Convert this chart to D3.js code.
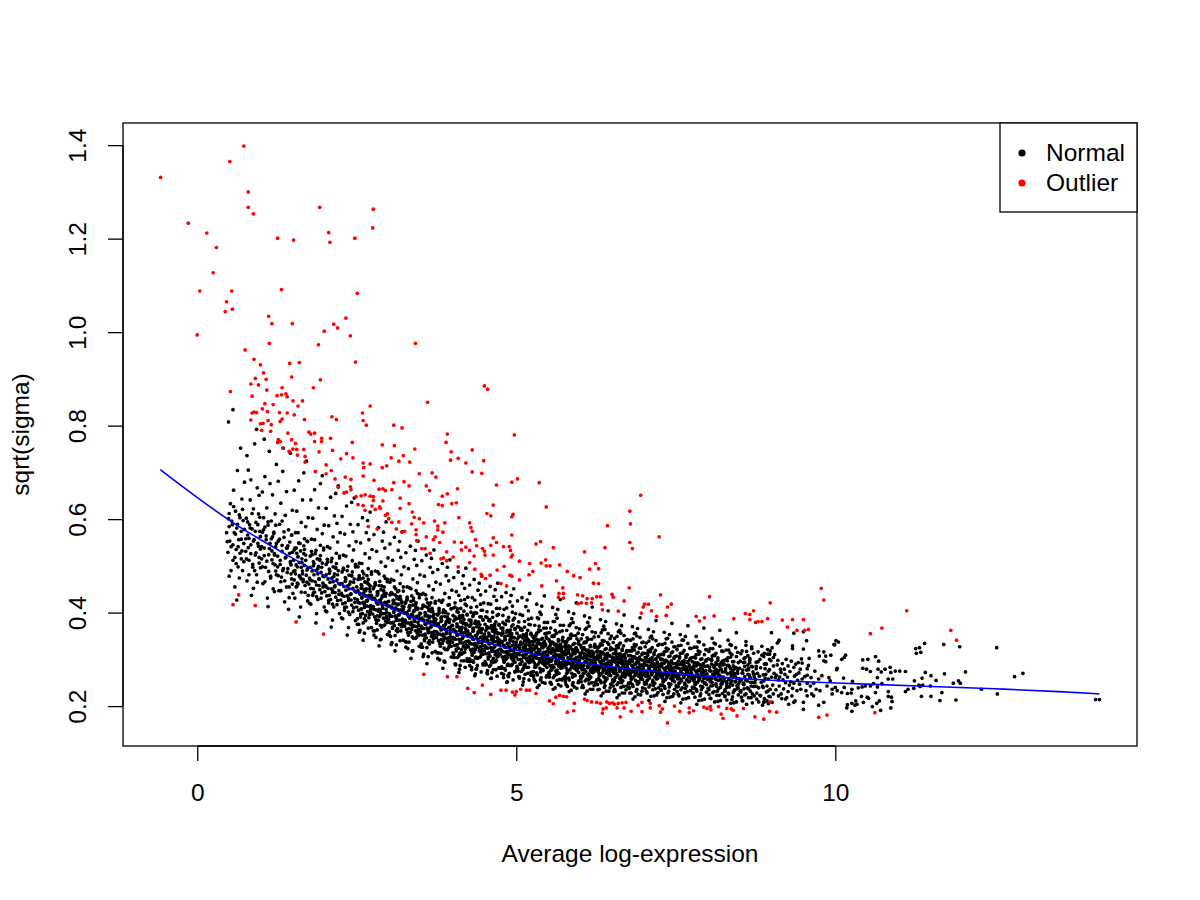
<!DOCTYPE html>
<html><head><meta charset="utf-8">
<script src="https://cdn.jsdelivr.net/npm/d3@7"></script>
<style>body{margin:0;background:#fff} text{font-family:"Liberation Sans",Arial,sans-serif}</style>
</head><body><svg id="c" width="1200" height="900"></svg>
<script>
// Normal genes: [average log-expression, sqrt(sigma)] — spread of the cloud
const normal=[
[.47,.552],[.49,.601],[.5,.478],[.52,.633],[.53,.541],[.55,.588],[.56,.512],[.57,.662],[.58,.571],[.59,.455],[.6,.617],[.61,.535],[.62,.581],[.63,.704],[.64,.498],[.65,.556],[.66,.609],[.67,.527],[.68,.752],[.69,.574],[.7,.643],[.71,.49],[.72,.597],[.73,.548],[.74,.679],[.5,.584],[.56,.834],[.49,.808],[.62,.427],[.69,.515],
[.76,.531],[.77,.602],[.78,.468],[.79,.566],[.8,.705],[.81,.512],[.82,.588],[.83,.641],[.84,.545],[.85,.437],[.86,.579],[.87,.497],[.88,.622],[.89,.556],[.9,.761],[.91,.523],[.92,.593],[.93,.481],[.94,.667],[.95,.548],[.96,.611],[.97,.506],[.98,.574],[.99,.536],[.78,.736],[.84,.684],[.88,.452],[.93,.792],[.97,.651],[.81,.559],
[1.01,.515],[1.02,.572],[1.03,.462],[1.04,.603],[1.05,.538],[1.06,.691],[1.07,.497],[1.08,.556],[1.09,.624],[1.1,.431],[1.11,.587],[1.12,.524],[1.13,.745],[1.14,.548],[1.15,.478],[1.16,.596],[1.17,.532],[1.18,.652],[1.19,.505],[1.2,.569],[1.21,.445],[1.22,.611],[1.23,.541],[1.24,.717],[1.02,.658],[1.06,.583],[1.11,.413],[1.14,.676],[1.18,.562],[1.21,.523],[1.05,.771],[1.23,.489],
[1.26,.498],[1.27,.553],[1.28,.447],[1.29,.589],[1.3,.512],[1.31,.634],[1.32,.476],[1.33,.531],[1.34,.702],[1.35,.494],[1.36,.561],[1.37,.423],[1.38,.608],[1.39,.519],[1.4,.659],[1.41,.486],[1.42,.543],[1.43,.577],[1.44,.455],[1.45,.527],[1.46,.741],[1.47,.502],[1.48,.566],[1.49,.619],[1.27,.681],[1.31,.466],[1.35,.752],[1.4,.538],[1.43,.407],[1.46,.509],[1.33,.596],[1.48,.472],
[1.51,.488],[1.52,.534],[1.53,.431],[1.54,.571],[1.55,.502],[1.56,.617],[1.57,.463],[1.58,.519],[1.59,.682],[1.6,.479],[1.61,.548],[1.62,.412],[1.63,.593],[1.64,.507],[1.65,.641],[1.66,.471],[1.67,.526],[1.68,.558],[1.69,.443],[1.7,.512],[1.71,.724],[1.72,.491],[1.73,.552],[1.74,.603],[1.52,.662],[1.56,.456],[1.6,.391],[1.63,.497],[1.67,.699],[1.7,.584],[1.73,.425],[1.55,.538],[1.65,.483],[1.58,.571],
[1.76,.474],[1.77,.521],[1.78,.418],[1.79,.557],[1.8,.489],[1.81,.602],[1.82,.451],[1.83,.505],[1.84,.663],[1.85,.466],[1.86,.533],[1.87,.398],[1.88,.578],[1.89,.494],[1.9,.624],[1.91,.458],[1.92,.512],[1.93,.544],[1.94,.431],[1.95,.497],[1.96,.693],[1.97,.478],[1.98,.538],[1.99,.587],[1.78,.641],[1.82,.442],[1.86,.378],[1.89,.483],[1.93,.676],[1.96,.569],[1.99,.412],[1.8,.524],[1.91,.471],[1.84,.556],
[2.01,.458],[2.02,.503],[2.03,.402],[2.04,.541],[2.05,.472],[2.06,.586],[2.07,.437],[2.08,.489],[2.09,.647],[2.1,.451],[2.11,.516],[2.12,.384],[2.13,.562],[2.14,.477],[2.15,.607],[2.16,.443],[2.17,.495],[2.18,.527],[2.19,.417],[2.2,.481],[2.21,.671],[2.22,.462],[2.23,.521],[2.24,.571],[2.02,.623],[2.06,.426],[2.1,.369],[2.13,.466],[2.17,.655],[2.2,.551],[2.23,.398],[2.04,.508],[2.15,.455],[2.08,.538],[2.19,.591],[2.12,.447],
[2.26,.441],[2.27,.487],[2.28,.387],[2.29,.523],[2.3,.456],[2.31,.568],[2.32,.421],[2.33,.472],[2.34,.628],[2.35,.436],[2.36,.499],[2.37,.368],[2.38,.543],[2.39,.461],[2.4,.589],[2.41,.427],[2.42,.479],[2.43,.511],[2.44,.402],[2.45,.465],[2.46,.645],[2.47,.446],[2.48,.503],[2.49,.552],[2.27,.606],[2.31,.411],[2.35,.352],[2.38,.451],[2.42,.636],[2.45,.534],[2.48,.383],[2.29,.492],[2.4,.439],[2.33,.521],[2.44,.573],[2.37,.431],
[2.51,.428],[2.52,.471],[2.53,.375],[2.54,.506],[2.55,.441],[2.56,.549],[2.57,.408],[2.58,.457],[2.59,.603],[2.6,.422],[2.61,.483],[2.62,.356],[2.63,.526],[2.64,.447],[2.65,.571],[2.66,.414],[2.67,.463],[2.68,.494],[2.69,.389],[2.7,.451],[2.71,.615],[2.72,.432],[2.73,.487],[2.74,.535],[2.52,.588],[2.56,.397],[2.6,.341],[2.63,.436],[2.67,.597],[2.7,.517],[2.73,.368],[2.54,.476],[2.65,.425],[2.58,.505],[2.69,.556],[2.62,.418],[2.71,.402],[2.55,.362],
[2.76,.413],[2.77,.455],[2.78,.361],[2.79,.489],[2.8,.426],[2.81,.531],[2.82,.393],[2.83,.441],[2.84,.582],[2.85,.407],[2.86,.467],[2.87,.342],[2.88,.508],[2.89,.431],[2.9,.553],[2.91,.398],[2.92,.447],[2.93,.478],[2.94,.374],[2.95,.435],[2.96,.594],[2.97,.416],[2.98,.471],[2.99,.517],[2.77,.567],[2.81,.383],[2.85,.329],[2.88,.421],[2.92,.572],[2.95,.499],[2.98,.353],[2.79,.459],[2.9,.409],[2.83,.487],[2.94,.538],[2.87,.402],[2.96,.387],[2.8,.347],
[3.01,.398],[3.02,.438],[3.03,.349],[3.04,.471],[3.05,.411],[3.06,.512],[3.07,.379],[3.08,.426],[3.09,.561],[3.1,.393],[3.11,.451],[3.12,.331],[3.13,.489],[3.14,.417],[3.15,.533],[3.16,.384],[3.17,.432],[3.18,.462],[3.19,.361],[3.2,.421],[3.21,.573],[3.22,.402],[3.23,.455],[3.24,.498],[3.02,.547],[3.06,.369],[3.1,.318],[3.13,.407],[3.17,.552],[3.2,.481],[3.23,.341],[3.04,.443],[3.15,.395],[3.08,.469],[3.19,.518],[3.12,.388],[3.21,.374],[3.05,.336],[3.14,.445],[3.24,.413],
[3.26,.384],[3.27,.423],[3.28,.337],[3.29,.455],[3.3,.396],[3.31,.494],[3.32,.366],[3.33,.411],[3.34,.542],[3.35,.379],[3.36,.436],[3.37,.318],[3.38,.472],[3.39,.403],[3.4,.514],[3.41,.371],[3.42,.418],[3.43,.447],[3.44,.348],[3.45,.407],[3.46,.553],[3.47,.388],[3.48,.439],[3.49,.481],[3.27,.528],[3.31,.356],[3.35,.302],[3.38,.393],[3.42,.533],[3.45,.464],[3.48,.328],[3.29,.428],[3.4,.382],[3.33,.453],[3.44,.501],[3.37,.374],[3.46,.361],[3.3,.323],[3.39,.431],[3.49,.399],
[3.51,.371],[3.52,.409],[3.53,.326],[3.54,.441],[3.55,.383],[3.56,.478],[3.57,.354],[3.58,.397],[3.59,.523],[3.6,.367],[3.61,.421],[3.62,.306],[3.63,.457],[3.64,.389],[3.65,.497],[3.66,.358],[3.67,.404],[3.68,.432],[3.69,.337],[3.7,.393],[3.71,.534],[3.72,.375],[3.73,.424],[3.74,.465],[3.52,.511],[3.56,.344],[3.6,.291],[3.63,.379],[3.67,.516],[3.7,.449],[3.73,.317],[3.54,.414],[3.65,.368],[3.58,.438],[3.69,.486],[3.62,.361],[3.71,.349],[3.55,.311],[3.64,.416],[3.74,.386],[3.57,.376],[3.68,.352],
[3.76,.358],[3.77,.395],[3.78,.314],[3.79,.426],[3.8,.369],[3.81,.461],[3.82,.342],[3.83,.383],[3.84,.505],[3.85,.354],[3.86,.406],[3.87,.296],[3.88,.441],[3.89,.375],[3.9,.479],[3.91,.345],[3.92,.389],[3.93,.416],[3.94,.325],[3.95,.379],[3.96,.513],[3.97,.362],[3.98,.408],[3.99,.448],[3.77,.492],[3.81,.332],[3.85,.281],[3.88,.365],[3.92,.497],[3.95,.432],[3.98,.305],[3.79,.399],[3.9,.355],[3.83,.422],[3.94,.468],[3.87,.348],[3.96,.336],[3.8,.299],[3.89,.401],[3.99,.372],[3.82,.363],[3.93,.339],
[4.01,.347],[4.02,.382],[4.03,.304],[4.04,.412],[4.05,.358],[4.06,.445],[4.07,.331],[4.08,.371],[4.09,.487],[4.1,.343],[4.11,.393],[4.12,.287],[4.13,.426],[4.14,.364],[4.15,.462],[4.16,.335],[4.17,.377],[4.18,.403],[4.19,.315],[4.2,.367],[4.21,.495],[4.22,.351],[4.23,.395],[4.24,.433],[4.02,.475],[4.06,.322],[4.1,.272],[4.13,.354],[4.17,.479],[4.2,.418],[4.23,.296],[4.04,.386],[4.15,.344],[4.08,.408],[4.19,.452],[4.12,.338],[4.21,.326],[4.05,.29],[4.14,.389],[4.24,.361],[4.07,.352],[4.18,.329],[4.11,.311],[4.22,.376],
[4.26,.338],[4.27,.371],[4.28,.296],[4.29,.401],[4.3,.348],[4.31,.432],[4.32,.322],[4.33,.361],[4.34,.471],[4.35,.334],[4.36,.382],[4.37,.279],[4.38,.413],[4.39,.354],[4.4,.448],[4.41,.326],[4.42,.367],[4.43,.391],[4.44,.306],[4.45,.357],[4.46,.478],[4.47,.342],[4.48,.384],[4.49,.421],[4.27,.459],[4.31,.313],[4.35,.265],[4.38,.345],[4.42,.463],[4.45,.405],[4.48,.288],[4.29,.375],[4.4,.335],[4.33,.396],[4.44,.438],[4.37,.329],[4.46,.317],[4.3,.283],[4.39,.378],[4.49,.351],[4.32,.343],[4.43,.32],[4.36,.303],[4.47,.366],
[4.51,.329],[4.52,.361],[4.53,.289],[4.54,.39],[4.55,.339],[4.56,.419],[4.57,.314],[4.58,.351],[4.59,.456],[4.6,.325],[4.61,.372],[4.62,.272],[4.63,.401],[4.64,.344],[4.65,.435],[4.66,.317],[4.67,.357],[4.68,.38],[4.69,.298],[4.7,.347],[4.71,.463],[4.72,.333],[4.73,.373],[4.74,.409],[4.52,.446],[4.56,.305],[4.6,.259],[4.63,.336],[4.67,.449],[4.7,.394],[4.73,.281],[4.54,.365],[4.65,.326],[4.58,.385],[4.69,.426],[4.62,.32],[4.71,.309],[4.55,.276],[4.64,.368],[4.74,.341],[4.57,.334],[4.68,.311],[4.61,.295],[4.72,.356],[4.53,.347],[4.66,.364],
[4.76,.321],[4.77,.352],[4.78,.281],[4.79,.379],[4.8,.33],[4.81,.407],[4.82,.306],[4.83,.342],[4.84,.443],[4.85,.317],[4.86,.362],[4.87,.265],[4.88,.39],[4.89,.335],[4.9,.423],[4.91,.309],[4.92,.348],[4.93,.371],[4.94,.29],[4.95,.338],[4.96,.451],[4.97,.324],[4.98,.364],[4.99,.398],[4.77,.434],[4.81,.297],[4.85,.251],[4.88,.327],[4.92,.437],[4.95,.384],[4.98,.273],[4.79,.356],[4.9,.318],[4.83,.375],[4.94,.414],[4.87,.312],[4.96,.301],[4.8,.268],[4.89,.359],[4.99,.332],[4.82,.326],[4.93,.303],[4.86,.287],[4.97,.346],[4.78,.338],[4.91,.355],
[5.01,.313],[5.02,.344],[5.03,.275],[5.04,.369],[5.05,.322],[5.06,.396],[5.07,.299],[5.08,.334],[5.09,.432],[5.1,.309],[5.11,.353],[5.12,.259],[5.13,.381],[5.14,.327],[5.15,.413],[5.16,.302],[5.17,.34],[5.18,.362],[5.19,.283],[5.2,.33],[5.21,.441],[5.22,.316],[5.23,.356],[5.24,.388],[5.02,.425],[5.06,.29],[5.1,.245],[5.13,.319],[5.17,.427],[5.2,.375],[5.23,.266],[5.04,.348],[5.15,.31],[5.08,.366],[5.19,.404],[5.12,.304],[5.21,.294],[5.05,.262],[5.14,.351],[5.24,.324],[5.07,.318],[5.18,.296],[5.11,.28],[5.22,.338],[5.03,.33],[5.16,.347],
[5.26,.297],[5.28,.338],[5.27,.266],[5.31,.352],[5.29,.309],[5.33,.389],[5.3,.287],[5.35,.321],[5.32,.418],[5.38,.302],[5.34,.341],[5.41,.251],[5.36,.371],[5.43,.315],[5.37,.401],[5.46,.294],[5.39,.331],[5.48,.356],[5.4,.277],[5.42,.325],[5.44,.436],[5.45,.308],[5.47,.348],[5.49,.379],[5.26,.331],[5.29,.283],[5.33,.24],[5.36,.312],[5.4,.414],[5.43,.367],[5.47,.262],[5.27,.346],[5.31,.305],[5.35,.359],[5.39,.396],[5.42,.299],[5.45,.29],[5.28,.257],[5.32,.343],[5.49,.318],[5.34,.314],[5.41,.293],[5.38,.273],[5.46,.333],[5.3,.327],[5.44,.339],
[5.51,.301],[5.53,.329],[5.52,.262],[5.56,.349],[5.54,.296],[5.58,.381],[5.55,.282],[5.6,.317],[5.57,.411],[5.63,.298],[5.59,.334],[5.66,.246],[5.61,.362],[5.68,.309],[5.62,.396],[5.71,.288],[5.64,.323],[5.73,.347],[5.65,.271],[5.67,.319],[5.69,.428],[5.7,.303],[5.72,.341],[5.74,.373],[5.51,.324],[5.54,.276],[5.58,.236],[5.61,.305],[5.65,.407],[5.68,.359],[5.72,.256],[5.52,.339],[5.56,.299],[5.6,.352],[5.64,.388],[5.67,.293],[5.7,.284],[5.53,.251],[5.57,.336],[5.74,.312],[5.59,.307],[5.66,.287],[5.63,.268],[5.71,.327],[5.55,.319],[5.69,.332],
[5.76,.294],[5.78,.322],[5.77,.257],[5.81,.342],[5.79,.289],[5.83,.372],[5.8,.276],[5.85,.31],[5.82,.402],[5.88,.291],[5.84,.327],[5.91,.241],[5.86,.354],[5.93,.302],[5.87,.387],[5.96,.282],[5.89,.316],[5.98,.339],[5.9,.265],[5.92,.312],[5.94,.421],[5.95,.297],[5.97,.334],[5.99,.365],[5.76,.317],[5.79,.27],[5.83,.231],[5.86,.299],[5.9,.398],[5.93,.351],[5.97,.25],[5.77,.332],[5.81,.293],[5.85,.345],[5.89,.379],[5.92,.286],[5.95,.278],[5.78,.246],[5.82,.329],[5.99,.306],[5.84,.301],[5.91,.281],[5.88,.262],[5.96,.32],[5.8,.313],[5.94,.325],
[6.01,.288],[6.03,.315],[6.02,.252],[6.06,.335],[6.04,.283],[6.08,.364],[6.05,.27],[6.1,.304],[6.07,.393],[6.13,.285],[6.09,.32],[6.16,.236],[6.11,.346],[6.18,.296],[6.12,.379],[6.21,.276],[6.14,.31],[6.23,.332],[6.15,.259],[6.17,.306],[6.19,.412],[6.2,.291],[6.22,.327],[6.24,.357],[6.01,.311],[6.04,.264],[6.08,.226],[6.11,.293],[6.15,.389],[6.18,.343],[6.22,.244],[6.02,.325],[6.06,.287],[6.1,.338],[6.14,.371],[6.17,.28],[6.2,.272],[6.03,.24],[6.07,.322],[6.24,.3],[6.09,.295],[6.16,.275],[6.13,.256],[6.21,.314],
[6.26,.284],[6.28,.309],[6.27,.247],[6.31,.329],[6.29,.278],[6.33,.357],[6.3,.265],[6.35,.298],[6.32,.385],[6.38,.28],[6.34,.314],[6.41,.232],[6.36,.339],[6.43,.291],[6.37,.371],[6.46,.271],[6.39,.304],[6.48,.325],[6.4,.254],[6.42,.301],[6.44,.404],[6.45,.286],[6.47,.32],[6.49,.35],[6.26,.305],[6.29,.259],[6.33,.222],[6.36,.288],[6.4,.381],[6.43,.336],[6.47,.239],[6.27,.318],[6.31,.282],[6.35,.331],[6.39,.364],[6.42,.275],[6.45,.267],[6.28,.235],[6.32,.316],[6.49,.294],[6.34,.29],[6.41,.27],[6.38,.251],[6.46,.308],
[6.51,.279],[6.53,.303],[6.52,.243],[6.56,.322],[6.54,.274],[6.58,.349],[6.55,.261],[6.6,.293],[6.57,.376],[6.63,.276],[6.59,.308],[6.66,.228],[6.61,.332],[6.68,.286],[6.62,.362],[6.71,.266],[6.64,.298],[6.73,.318],[6.65,.25],[6.67,.296],[6.69,.395],[6.7,.281],[6.72,.314],[6.74,.342],[6.51,.3],[6.54,.255],[6.58,.218],[6.61,.283],[6.65,.372],[6.68,.329],[6.72,.235],[6.52,.312],[6.56,.277],[6.6,.325],[6.64,.356],[6.67,.27],[6.7,.262],[6.53,.231],[6.57,.31],[6.74,.289],[6.59,.285],[6.66,.265],
[6.76,.276],[6.78,.299],[6.77,.24],[6.81,.318],[6.79,.27],[6.83,.344],[6.8,.258],[6.85,.289],[6.82,.37],[6.88,.272],[6.84,.304],[6.91,.225],[6.86,.327],[6.93,.282],[6.87,.356],[6.96,.262],[6.89,.294],[6.98,.313],[6.9,.247],[6.92,.292],[6.94,.389],[6.95,.277],[6.97,.31],[6.99,.337],[6.76,.296],[6.79,.251],[6.83,.215],[6.86,.279],[6.9,.366],[6.93,.324],[6.97,.232],[6.77,.308],[6.81,.273],[6.85,.32],[6.89,.35],[6.92,.266],[6.95,.258],[6.78,.228],[6.82,.306],[6.99,.285],
[7.01,.273],[7.03,.296],[7.02,.237],[7.06,.314],[7.04,.267],[7.08,.339],[7.05,.255],[7.1,.286],[7.07,.364],[7.13,.269],[7.09,.3],[7.16,.222],[7.11,.322],[7.18,.279],[7.12,.35],[7.21,.259],[7.14,.29],[7.23,.309],[7.15,.244],[7.17,.288],[7.19,.383],[7.2,.274],[7.22,.306],[7.24,.332],[7.01,.292],[7.04,.248],[7.08,.212],[7.11,.275],[7.15,.359],[7.18,.319],[7.22,.229],[7.02,.304],[7.06,.27],[7.1,.316],[7.14,.344],[7.2,.263],
[7.26,.27],[7.28,.292],[7.27,.234],[7.31,.31],[7.29,.264],[7.33,.334],[7.3,.252],[7.35,.283],[7.32,.358],[7.38,.266],[7.34,.296],[7.41,.219],[7.36,.318],[7.43,.276],[7.37,.345],[7.46,.256],[7.39,.287],[7.48,.305],[7.4,.241],[7.42,.285],[7.44,.377],[7.45,.271],[7.47,.302],[7.49,.327],[7.26,.289],[7.29,.245],[7.33,.21],[7.36,.272],[7.4,.353],[7.43,.314],[7.47,.226],[7.27,.3],[7.31,.267],[7.45,.261],
[7.51,.267],[7.53,.289],[7.52,.231],[7.56,.306],[7.54,.261],[7.58,.33],[7.55,.249],[7.6,.28],[7.57,.353],[7.63,.263],[7.59,.293],[7.66,.216],[7.61,.314],[7.68,.273],[7.62,.341],[7.71,.253],[7.64,.284],[7.73,.302],[7.65,.238],[7.67,.282],[7.69,.372],[7.7,.268],[7.72,.299],[7.74,.323],[7.51,.286],[7.54,.242],[7.58,.207],[7.61,.269],[7.65,.349],[7.68,.31],
[7.76,.264],[7.78,.286],[7.77,.228],[7.81,.303],[7.79,.258],[7.83,.326],[7.8,.246],[7.85,.277],[7.82,.349],[7.88,.26],[7.84,.29],[7.91,.213],[7.86,.311],[7.93,.27],[7.87,.337],[7.96,.25],[7.89,.281],[7.98,.299],[7.9,.235],[7.92,.279],[7.94,.367],[7.95,.265],[7.97,.296],[7.99,.32],[7.76,.283],[7.79,.239],[7.83,.204],[7.86,.266],
[8.01,.261],[8.03,.283],[8.02,.225],[8.06,.3],[8.04,.255],[8.08,.323],[8.05,.243],[8.1,.274],[8.07,.345],[8.13,.257],[8.09,.287],[8.16,.21],[8.11,.308],[8.18,.267],[8.12,.333],[8.21,.247],[8.14,.278],[8.23,.296],[8.15,.232],[8.17,.276],[8.19,.362],[8.2,.262],[8.22,.293],[8.24,.317],
[8.26,.258],[8.28,.28],[8.27,.222],[8.31,.297],[8.29,.252],[8.33,.32],[8.3,.24],[8.35,.271],[8.32,.341],[8.38,.254],[8.34,.284],[8.41,.207],[8.36,.305],[8.43,.264],[8.37,.33],[8.46,.244],[8.39,.275],[8.48,.293],[8.4,.229],[8.45,.357],
[8.52,.255],[8.55,.277],[8.53,.219],[8.58,.294],[8.56,.249],[8.61,.317],[8.57,.237],[8.63,.268],[8.6,.338],[8.67,.251],[8.64,.281],[8.7,.226],[8.66,.302],[8.73,.262],[8.69,.327],[8.76,.242]
];
// Normal genes in the dense core of the cloud
const normalCore=[
[.46,.571],[.48,.529],[.5,.612],[.51,.553],[.53,.49],[.54,.596],[.56,.545],[.57,.627],[.59,.518],[.6,.568],[.61,.505],[.63,.589],[.64,.541],[.66,.474],[.67,.603],[.69,.557],[.7,.532],[.71,.621],[.73,.509],[.74,.578],
[.76,.558],[.77,.515],[.79,.594],[.8,.539],[.81,.481],[.83,.581],[.84,.526],[.86,.612],[.87,.503],[.88,.553],[.9,.49],[.91,.574],[.92,.528],[.94,.465],[.95,.588],[.96,.542],[.97,.518],[.98,.604],[.99,.496],[.99,.563],
[1.01,.541],[1.02,.498],[1.04,.577],[1.05,.522],[1.06,.466],[1.08,.564],[1.09,.51],[1.11,.594],[1.12,.488],[1.13,.537],[1.15,.474],[1.16,.558],[1.17,.513],[1.19,.451],[1.2,.572],[1.21,.526],[1.22,.502],[1.23,.587],[1.24,.481],[1.24,.548],
[1.26,.521],[1.27,.479],[1.29,.557],[1.3,.503],[1.31,.447],[1.33,.544],[1.34,.49],[1.36,.573],[1.37,.468],[1.38,.517],[1.4,.455],[1.41,.538],[1.42,.494],[1.44,.432],[1.45,.551],[1.46,.506],[1.47,.483],[1.48,.566],[1.49,.461],[1.49,.529],
[1.5,.441],[1.51,.512],[1.52,.47],[1.53,.538],[1.54,.483],[1.55,.455],[1.56,.527],[1.57,.498],[1.58,.461],[1.59,.549],[1.6,.507],[1.61,.476],[1.62,.532],[1.63,.444],[1.64,.515],[1.65,.489],[1.66,.466],[1.67,.543],[1.68,.501],[1.69,.458],[1.7,.523],[1.71,.48],[1.72,.553],[1.73,.494],[1.74,.437],[1.53,.49],[1.58,.52],[1.63,.472],[1.68,.535],[1.72,.465],
[1.75,.461],[1.76,.42],[1.77,.497],[1.78,.452],[1.79,.531],[1.8,.468],[1.81,.437],[1.82,.509],[1.83,.481],[1.84,.444],[1.85,.526],[1.86,.49],[1.87,.459],[1.88,.515],[1.89,.428],[1.9,.499],[1.91,.473],[1.92,.449],[1.93,.522],[1.94,.486],[1.95,.442],[1.96,.506],[1.97,.463],[1.98,.534],[1.99,.477],[1.77,.47],[1.82,.5],[1.87,.434],[1.92,.514],[1.97,.455],
[2,.445],[2.01,.404],[2.02,.481],[2.03,.436],[2.04,.514],[2.05,.452],[2.06,.421],[2.07,.493],[2.08,.465],[2.09,.428],[2.1,.509],[2.11,.474],[2.12,.443],[2.13,.498],[2.14,.412],[2.15,.483],[2.16,.457],[2.17,.433],[2.18,.505],[2.19,.47],[2.2,.426],[2.21,.49],[2.22,.447],[2.23,.517],[2.24,.461],[2.02,.455],[2.07,.484],[2.12,.418],[2.17,.497],[2.22,.439],
[2.25,.427],[2.26,.389],[2.27,.462],[2.28,.419],[2.29,.495],[2.3,.435],[2.31,.405],[2.32,.475],[2.33,.448],[2.34,.412],[2.35,.49],[2.36,.457],[2.37,.426],[2.38,.48],[2.39,.396],[2.4,.466],[2.41,.44],[2.42,.416],[2.43,.487],[2.44,.452],[2.45,.41],[2.46,.472],[2.47,.43],[2.48,.498],[2.49,.444],[2.27,.437],[2.32,.467],[2.37,.401],[2.42,.479],[2.47,.422],
[2.5,.412],[2.51,.375],[2.52,.447],[2.53,.405],[2.54,.479],[2.55,.42],[2.56,.391],[2.57,.46],[2.58,.433],[2.59,.398],[2.6,.474],[2.61,.442],[2.62,.411],[2.63,.465],[2.64,.383],[2.65,.451],[2.66,.425],[2.67,.402],[2.68,.471],[2.69,.437],[2.7,.396],[2.71,.457],[2.72,.415],[2.73,.482],[2.74,.429],[2.52,.422],[2.57,.452],[2.62,.387],[2.67,.463],[2.72,.407],
[2.75,.397],[2.76,.361],[2.77,.431],[2.78,.391],[2.79,.462],[2.8,.406],[2.81,.377],[2.82,.444],[2.83,.418],[2.84,.384],[2.85,.458],[2.86,.427],[2.87,.396],[2.88,.449],[2.89,.369],[2.9,.436],[2.91,.41],[2.92,.388],[2.93,.455],[2.94,.422],[2.95,.382],[2.96,.441],[2.97,.4],[2.98,.466],[2.99,.414],[2.77,.407],[2.82,.437],[2.87,.373],[2.92,.447],[2.97,.392],
[3,.385],[3.01,.352],[3.02,.414],[3.03,.378],[3.04,.442],[3.05,.392],[3.06,.366],[3.07,.426],[3.08,.402],[3.09,.372],[3.1,.438],[3.11,.41],[3.12,.383],[3.13,.43],[3.14,.359],[3.15,.418],[3.16,.395],[3.17,.375],[3.18,.435],[3.19,.406],[3.2,.37],[3.21,.423],[3.22,.386],[3.23,.446],[3.24,.399],[3.02,.392],[3.07,.419],[3.12,.362],[3.17,.428],[3.22,.378],
[3.25,.371],[3.26,.338],[3.27,.4],[3.28,.364],[3.29,.428],[3.3,.378],[3.31,.352],[3.32,.412],[3.33,.388],[3.34,.358],[3.35,.424],[3.36,.396],[3.37,.369],[3.38,.416],[3.39,.345],[3.4,.404],[3.41,.381],[3.42,.361],[3.43,.421],[3.44,.392],[3.45,.356],[3.46,.409],[3.47,.372],[3.48,.432],[3.49,.385],[3.27,.378],[3.32,.405],[3.37,.348],[3.42,.414],[3.47,.364],
[3.5,.359],[3.51,.326],[3.52,.388],[3.53,.352],[3.54,.416],[3.55,.366],[3.56,.34],[3.57,.4],[3.58,.376],[3.59,.346],[3.6,.412],[3.61,.384],[3.62,.357],[3.63,.404],[3.64,.333],[3.65,.392],[3.66,.369],[3.67,.349],[3.68,.409],[3.69,.38],[3.7,.344],[3.71,.397],[3.72,.36],[3.73,.42],[3.74,.373],[3.52,.366],[3.57,.393],[3.62,.336],[3.67,.402],[3.72,.352],
[3.75,.347],[3.76,.314],[3.77,.376],[3.78,.34],[3.79,.404],[3.8,.354],[3.81,.328],[3.82,.388],[3.83,.364],[3.84,.334],[3.85,.4],[3.86,.372],[3.87,.345],[3.88,.392],[3.89,.321],[3.9,.38],[3.91,.357],[3.92,.337],[3.93,.397],[3.94,.368],[3.95,.332],[3.96,.385],[3.97,.348],[3.98,.408],[3.99,.361],[3.77,.354],[3.82,.381],[3.87,.324],[3.92,.39],[3.97,.34],
[4,.337],[4.01,.305],[4.02,.364],[4.03,.33],[4.04,.391],[4.05,.343],[4.06,.318],[4.07,.376],[4.08,.353],[4.09,.324],[4.1,.388],[4.11,.361],[4.12,.335],[4.13,.38],[4.14,.311],[4.15,.369],[4.16,.346],[4.17,.327],[4.18,.385],[4.19,.357],[4.2,.322],[4.21,.374],[4.22,.338],[4.23,.396],[4.24,.35],[4.02,.344],[4.07,.37],[4.12,.314],[4.17,.378],[4.22,.33],
[4.25,.327],[4.26,.296],[4.27,.354],[4.28,.321],[4.29,.38],[4.3,.333],[4.31,.309],[4.32,.366],[4.33,.343],[4.34,.315],[4.35,.377],[4.36,.351],[4.37,.326],[4.38,.37],[4.39,.302],[4.4,.359],[4.41,.336],[4.42,.318],[4.43,.374],[4.44,.347],[4.45,.313],[4.46,.364],[4.47,.329],[4.48,.385],[4.49,.34],[4.27,.334],[4.32,.36],[4.37,.305],[4.42,.367],[4.47,.321],
[4.5,.318],[4.51,.288],[4.52,.345],[4.53,.312],[4.54,.37],[4.55,.324],[4.56,.301],[4.57,.356],[4.58,.334],[4.59,.307],[4.6,.367],[4.61,.342],[4.62,.317],[4.63,.36],[4.64,.294],[4.65,.35],[4.66,.327],[4.67,.31],[4.68,.364],[4.69,.338],[4.7,.305],[4.71,.355],[4.72,.32],[4.73,.375],[4.74,.331],[4.52,.325],[4.57,.35],[4.62,.297],[4.67,.357],[4.72,.313],
[4.75,.311],[4.76,.281],[4.77,.337],[4.78,.305],[4.79,.361],[4.8,.316],[4.81,.294],[4.82,.348],[4.83,.326],[4.84,.3],[4.85,.358],[4.86,.334],[4.87,.31],[4.88,.351],[4.89,.287],[4.9,.342],[4.91,.319],[4.92,.303],[4.93,.355],[4.94,.33],[4.95,.298],[4.96,.347],[4.97,.313],[4.98,.366],[4.99,.323],[4.77,.318],[4.82,.342],[4.87,.29],[4.92,.349],[4.97,.306],
[5,.305],[5.01,.279],[5.02,.328],[5.03,.3],[5.04,.349],[5.05,.31],[5.06,.29],[5.07,.337],[5.08,.318],[5.09,.295],[5.1,.346],[5.11,.325],[5.12,.304],[5.13,.34],[5.14,.284],[5.15,.332],[5.16,.312],[5.17,.298],[5.18,.343],[5.19,.321],[5.2,.293],[5.21,.336],[5.22,.307],[5.23,.353],[5.24,.316],[5.02,.311],[5.07,.332],[5.12,.287],[5.17,.338],[5.22,.3],
[5.25,.298],[5.26,.273],[5.27,.321],[5.28,.293],[5.29,.341],[5.3,.303],[5.31,.284],[5.32,.33],[5.33,.311],[5.34,.289],[5.35,.338],[5.36,.318],[5.37,.297],[5.38,.333],[5.39,.278],[5.4,.325],[5.41,.305],[5.42,.291],[5.43,.336],[5.44,.314],[5.45,.287],[5.46,.329],[5.47,.3],[5.48,.345],[5.49,.309],[5.27,.304],[5.32,.325],[5.37,.281],[5.42,.331],[5.47,.293],
[5.5,.292],[5.51,.268],[5.52,.315],[5.53,.287],[5.54,.334],[5.55,.297],[5.56,.278],[5.57,.323],[5.58,.305],[5.59,.283],[5.6,.331],[5.61,.312],[5.62,.291],[5.63,.326],[5.64,.272],[5.65,.319],[5.66,.299],[5.67,.285],[5.68,.329],[5.69,.308],[5.7,.281],[5.71,.322],[5.72,.294],[5.73,.338],[5.74,.303],[5.52,.298],[5.57,.319],[5.62,.275],[5.67,.324],[5.72,.287],
[5.75,.287],[5.76,.263],[5.77,.31],[5.78,.282],[5.79,.328],[5.8,.292],[5.81,.273],[5.82,.318],[5.83,.3],[5.84,.278],[5.85,.326],[5.86,.307],[5.87,.286],[5.88,.321],[5.89,.267],[5.9,.314],[5.91,.294],[5.92,.28],[5.93,.324],[5.94,.303],[5.95,.276],[5.96,.317],[5.97,.289],[5.98,.333],[5.99,.298],[5.77,.293],[5.82,.314],[5.87,.27],[5.92,.319],[5.97,.282],
[6,.283],[6.01,.26],[6.02,.304],[6.03,.278],[6.04,.321],[6.05,.287],[6.06,.27],[6.07,.312],[6.08,.295],[6.09,.274],[6.1,.319],[6.11,.301],[6.12,.282],[6.13,.315],[6.14,.264],[6.15,.308],[6.16,.289],[6.17,.276],[6.18,.317],[6.19,.298],[6.2,.272],[6.21,.311],[6.22,.285],[6.23,.326],[6.24,.293],[6.02,.288],[6.07,.308],[6.12,.267],[6.17,.313],[6.22,.278],
[6.25,.279],[6.26,.256],[6.27,.3],[6.28,.274],[6.29,.317],[6.3,.283],[6.31,.266],[6.32,.308],[6.33,.291],[6.34,.27],[6.35,.315],[6.36,.297],[6.37,.278],[6.38,.311],[6.39,.26],[6.4,.304],[6.41,.285],[6.42,.272],[6.43,.313],[6.44,.294],[6.45,.268],[6.46,.307],[6.47,.281],[6.48,.322],[6.49,.289],[6.27,.284],[6.32,.304],[6.37,.263],[6.42,.309],[6.47,.274],
[6.5,.275],[6.51,.252],[6.52,.296],[6.53,.27],[6.54,.313],[6.55,.279],[6.56,.262],[6.57,.304],[6.58,.287],[6.59,.266],[6.6,.311],[6.61,.293],[6.62,.274],[6.63,.307],[6.64,.256],[6.65,.3],[6.66,.281],[6.67,.268],[6.68,.309],[6.69,.29],[6.7,.264],[6.71,.303],[6.72,.277],[6.73,.318],[6.74,.285],[6.52,.28],[6.57,.3],[6.62,.259],[6.67,.305],[6.72,.27],
[6.75,.271],[6.76,.249],[6.77,.292],[6.78,.266],[6.79,.308],[6.8,.275],[6.81,.258],[6.82,.3],[6.83,.283],[6.84,.262],[6.85,.306],[6.86,.289],[6.87,.27],[6.88,.302],[6.89,.252],[6.9,.296],[6.91,.277],[6.92,.264],[6.93,.305],[6.94,.286],[6.95,.26],[6.96,.299],[6.97,.273],[6.98,.313],[6.99,.281],[6.77,.276],[6.82,.296],[6.87,.255],[6.92,.301],[6.97,.266],
[7,.269],[7.01,.248],[7.02,.288],[7.03,.264],[7.04,.303],[7.05,.272],[7.06,.256],[7.07,.295],[7.08,.28],[7.09,.26],[7.1,.301],[7.11,.285],[7.12,.267],[7.13,.297],[7.14,.251],[7.15,.291],[7.16,.274],[7.17,.262],[7.18,.3],[7.19,.282],[7.2,.258],[7.21,.294],[7.22,.27],[7.23,.308],[7.24,.278],
[7.25,.266],[7.26,.245],[7.27,.285],[7.28,.261],[7.29,.3],[7.3,.269],[7.31,.253],[7.32,.292],[7.33,.277],[7.34,.257],[7.35,.298],[7.36,.282],[7.37,.264],[7.38,.294],[7.39,.248],[7.4,.288],[7.41,.271],[7.42,.259],[7.43,.297],[7.44,.279],[7.45,.255],[7.46,.291],[7.47,.267],[7.48,.305],[7.49,.275],
[7.5,.263],[7.51,.243],[7.52,.282],[7.53,.258],[7.54,.296],[7.55,.266],[7.56,.25],[7.57,.289],[7.58,.274],[7.59,.254],[7.6,.295],[7.61,.279],[7.62,.261],[7.63,.291],[7.64,.246],[7.65,.285],[7.66,.268],[7.67,.256],[7.68,.294],[7.69,.276],[7.7,.252],[7.71,.288],[7.72,.264],[7.73,.302],[7.74,.272],
[7.75,.26],[7.76,.24],[7.77,.279],[7.78,.255],[7.79,.293],[7.8,.263],[7.81,.247],[7.82,.286],[7.83,.271],[7.84,.251],[7.85,.292],[7.86,.276],[7.87,.258],[7.88,.288],[7.89,.243],[7.9,.282],[7.91,.265],[7.92,.253],[7.93,.291],[7.94,.273],[7.95,.249],[7.96,.285],[7.97,.261],[7.98,.299],[7.99,.269],
[8,.257],[8.01,.238],[8.03,.276],[8.04,.252],[8.06,.29],[8.07,.26],[8.08,.244],[8.1,.283],[8.11,.268],[8.13,.248],[8.14,.289],[8.16,.273],[8.17,.255],[8.19,.285],[8.2,.24],[8.21,.279],[8.22,.262],[8.23,.25],[8.24,.288],[8.12,.27],
[8.25,.254],[8.27,.235],[8.28,.273],[8.3,.249],[8.31,.287],[8.33,.257],[8.34,.241],[8.36,.28],[8.37,.265],[8.39,.245],[8.4,.286],[8.42,.27],[8.43,.252],[8.45,.282],[8.46,.237],[8.47,.276],[8.49,.259],[8.48,.247],
[8.5,.252],[8.52,.233],[8.54,.271],[8.56,.247],[8.58,.285],[8.6,.255],[8.62,.239],[8.64,.278],[8.66,.263],[8.68,.243],[8.7,.284],[8.72,.268],[8.74,.25],[8.76,.28]
];
// More normal genes filling the solid band of mid/high expression
const normalCore2=[
[2.5,.455],[2.51,.387],[2.52,.498],[2.53,.422],[2.54,.358],[2.55,.44],[2.56,.472],[2.57,.407],[2.58,.431],[2.59,.488],[2.6,.378],[2.61,.45],[2.62,.418],[2.63,.466],[2.64,.394],[2.65,.436],[2.66,.479],[2.67,.427],[2.68,.367],[2.69,.46],[2.7,.413],[2.71,.445],[2.72,.4],[2.73,.437],
[2.75,.412],[2.76,.451],[2.77,.352],[2.78,.43],[2.79,.464],[2.8,.385],[2.81,.421],[2.82,.363],[2.83,.445],[2.84,.403],[2.85,.483],[2.86,.392],[2.87,.425],[2.88,.343],[2.89,.457],[2.9,.416],[2.91,.435],[2.92,.372],[2.93,.44],[2.94,.398],[2.95,.473],[2.96,.407],[2.97,.422],[2.98,.379],
[3,.424],[3.01,.359],[3.02,.465],[3.03,.393],[3.04,.332],[3.05,.41],[3.06,.44],[3.07,.378],[3.08,.401],[3.09,.455],[3.1,.351],[3.11,.419],[3.12,.389],[3.13,.434],[3.14,.366],[3.15,.406],[3.16,.447],[3.17,.397],[3.18,.34],[3.19,.429],[3.2,.384],[3.21,.414],[3.22,.372],[3.23,.407],
[3.25,.383],[3.26,.42],[3.27,.326],[3.28,.4],[3.29,.433],[3.3,.358],[3.31,.392],[3.32,.337],[3.33,.415],[3.34,.375],[3.35,.451],[3.36,.364],[3.37,.396],[3.38,.318],[3.39,.426],[3.4,.387],[3.41,.405],[3.42,.345],[3.43,.41],[3.44,.37],[3.45,.441],[3.46,.379],[3.47,.393],[3.48,.352],
[3.5,.398],[3.51,.333],[3.52,.439],[3.53,.367],[3.54,.306],[3.55,.384],[3.56,.414],[3.57,.352],[3.58,.375],[3.59,.429],[3.6,.325],[3.61,.393],[3.62,.363],[3.63,.408],[3.64,.34],[3.65,.38],[3.66,.421],[3.67,.371],[3.68,.314],[3.69,.403],[3.7,.358],[3.71,.388],[3.72,.346],[3.73,.381],
[3.75,.359],[3.76,.396],[3.77,.302],[3.78,.376],[3.79,.409],[3.8,.334],[3.81,.368],[3.82,.313],[3.83,.391],[3.84,.351],[3.85,.427],[3.86,.34],[3.87,.372],[3.88,.294],[3.89,.402],[3.9,.363],[3.91,.381],[3.92,.321],[3.93,.386],[3.94,.346],[3.95,.417],[3.96,.355],[3.97,.369],[3.98,.328],
[4,.373],[4.01,.314],[4.02,.41],[4.03,.345],[4.04,.29],[4.05,.36],[4.06,.387],[4.07,.331],[4.08,.352],[4.09,.401],[4.1,.307],[4.11,.368],[4.12,.341],[4.13,.382],[4.14,.321],[4.15,.357],[4.16,.394],[4.17,.349],[4.18,.297],[4.19,.377],[4.2,.337],[4.21,.364],[4.22,.326],[4.23,.358],
[4.25,.339],[4.26,.372],[4.27,.287],[4.28,.354],[4.29,.384],[4.3,.316],[4.31,.347],[4.32,.297],[4.33,.367],[4.34,.331],[4.35,.4],[4.36,.321],[4.37,.35],[4.38,.28],[4.39,.377],[4.4,.342],[4.41,.358],[4.42,.304],[4.43,.363],[4.44,.327],[4.45,.391],[4.46,.335],[4.47,.348],[4.48,.311],
[4.5,.354],[4.51,.295],[4.52,.391],[4.53,.326],[4.54,.271],[4.55,.341],[4.56,.368],[4.57,.312],[4.58,.333],[4.59,.382],[4.6,.288],[4.61,.349],[4.62,.322],[4.63,.363],[4.64,.302],[4.65,.338],[4.66,.375],[4.67,.33],[4.68,.278],[4.69,.358],[4.7,.318],[4.71,.345],[4.72,.307],[4.73,.339],
[4.75,.322],[4.76,.355],[4.77,.27],[4.78,.337],[4.79,.367],[4.8,.299],[4.81,.33],[4.82,.28],[4.83,.35],[4.84,.314],[4.85,.383],[4.86,.304],[4.87,.333],[4.88,.263],[4.89,.36],[4.9,.325],[4.91,.341],[4.92,.287],[4.93,.346],[4.94,.31],[4.95,.374],[4.96,.318],[4.97,.331],[4.98,.294],
[5,.337],[5.01,.285],[5.02,.37],[5.03,.312],[5.04,.263],[5.05,.326],[5.06,.35],[5.07,.3],[5.08,.318],[5.09,.362],[5.1,.278],[5.11,.333],[5.12,.309],[5.13,.345],[5.14,.29],[5.15,.322],[5.16,.355],[5.17,.315],[5.18,.27],[5.19,.341],[5.2,.305],[5.21,.329],[5.22,.295],[5.23,.323],
[5.25,.308],[5.26,.338],[5.27,.263],[5.28,.322],[5.29,.348],[5.3,.288],[5.31,.315],[5.32,.271],[5.33,.334],[5.34,.302],[5.35,.363],[5.36,.293],[5.37,.319],[5.38,.256],[5.39,.343],[5.4,.311],[5.41,.326],[5.42,.278],[5.43,.33],[5.44,.298],[5.45,.355],[5.46,.305],[5.47,.316],[5.48,.283],
[5.5,.324],[5.51,.272],[5.52,.357],[5.53,.299],[5.54,.25],[5.55,.313],[5.56,.337],[5.57,.287],[5.58,.305],[5.59,.349],[5.6,.265],[5.61,.32],[5.62,.296],[5.63,.332],[5.64,.277],[5.65,.309],[5.66,.342],[5.67,.302],[5.68,.257],[5.69,.328],[5.7,.292],[5.71,.316],[5.72,.282],[5.73,.31],
[5.75,.297],[5.76,.327],[5.77,.252],[5.78,.311],[5.79,.337],[5.8,.277],[5.81,.304],[5.82,.26],[5.83,.323],[5.84,.291],[5.85,.352],[5.86,.282],[5.87,.308],[5.88,.245],[5.89,.332],[5.9,.3],[5.91,.315],[5.92,.267],[5.93,.319],[5.94,.287],[5.95,.344],[5.96,.294],[5.97,.305],[5.98,.272],
[6,.313],[6.01,.264],[6.02,.344],[6.03,.289],[6.04,.244],[6.05,.302],[6.06,.325],[6.07,.278],[6.08,.295],[6.09,.336],[6.1,.258],[6.11,.309],[6.12,.286],[6.13,.32],[6.14,.269],[6.15,.299],[6.16,.33],[6.17,.292],[6.18,.25],[6.19,.317],[6.2,.283],[6.21,.305],[6.22,.274],[6.23,.3],
[6.25,.288],[6.26,.316],[6.27,.246],[6.28,.301],[6.29,.326],[6.3,.27],[6.31,.295],[6.32,.254],[6.33,.313],[6.34,.282],[6.35,.34],[6.36,.274],[6.37,.298],[6.38,.24],[6.39,.321],[6.4,.291],[6.41,.305],[6.42,.26],[6.43,.309],[6.44,.279],[6.45,.332],[6.46,.285],[6.47,.296],[6.48,.265],
[6.5,.305],[6.51,.256],[6.52,.336],[6.53,.281],[6.54,.236],[6.55,.294],[6.56,.317],[6.57,.27],[6.58,.287],[6.59,.328],[6.6,.25],[6.61,.301],[6.62,.278],[6.63,.312],[6.64,.261],[6.65,.291],[6.66,.322],[6.67,.284],[6.68,.242],[6.69,.309],[6.7,.275],[6.71,.297],[6.72,.266],[6.73,.292],
[6.75,.28],[6.76,.308],[6.77,.238],[6.78,.293],[6.79,.318],[6.8,.262],[6.81,.287],[6.82,.246],[6.83,.305],[6.84,.274],[6.85,.332],[6.86,.266],[6.87,.29],[6.88,.232],[6.89,.313],[6.9,.283],[6.91,.297],[6.92,.252],[6.93,.301],[6.94,.271],[6.95,.324],[6.96,.277],[6.97,.288],[6.98,.257],
[7,.297],[7.01,.25],[7.02,.327],[7.03,.275],[7.04,.231],[7.05,.287],[7.06,.309],[7.07,.264],[7.08,.281],[7.09,.319],[7.1,.245],[7.11,.294],[7.12,.272],[7.13,.304],[7.14,.255],[7.15,.284],[7.16,.314],[7.17,.278],[7.18,.237],[7.19,.301],[7.2,.268],[7.21,.29],[7.22,.26],[7.23,.285],
[7.25,.275],[7.26,.301],[7.27,.234],[7.28,.287],[7.29,.311],[7.3,.257],[7.31,.281],[7.32,.242],[7.33,.298],[7.34,.269],[7.35,.324],[7.36,.261],[7.37,.284],[7.38,.228],[7.39,.306],[7.4,.278],[7.41,.291],[7.42,.247],[7.43,.294],[7.44,.265],[7.45,.316],[7.46,.272],[7.47,.282],[7.48,.252],
[7.5,.291],[7.51,.244],[7.52,.321],[7.53,.269],[7.54,.225],[7.55,.281],[7.56,.303],[7.57,.258],[7.58,.275],[7.59,.313],[7.6,.239],[7.61,.288],[7.62,.266],[7.63,.298],[7.64,.249],[7.65,.278],[7.66,.308],[7.67,.272],[7.68,.231],[7.69,.295],[7.7,.262],[7.71,.284],[7.72,.254],[7.73,.279],
[7.75,.269],[7.76,.295],[7.77,.228],[7.78,.281],[7.79,.305],[7.8,.251],[7.81,.275],[7.82,.236],[7.83,.292],[7.84,.263],[7.85,.318],[7.86,.255],[7.87,.278],[7.88,.222],[7.89,.3],[7.9,.272],[7.91,.285],[7.92,.241],[7.93,.288],[7.94,.259],[7.95,.31],[7.96,.266],[7.97,.276],[7.98,.246],
[8,.286],[8.01,.237],[8.02,.317],[8.03,.262],[8.04,.217],[8.05,.275],[8.06,.298],[8.07,.251],[8.08,.268],[8.09,.309],[8.1,.231],[8.11,.282],[8.12,.259],[8.13,.293],[8.14,.242],[8.15,.272],[8.16,.303],[8.17,.265],[8.18,.223],[8.19,.29],[8.2,.256],[8.21,.278],[8.22,.247],[8.23,.273],
[8.25,.262],[8.26,.29],[8.27,.22],[8.28,.275],[8.29,.3],[8.3,.244],[8.31,.269],[8.32,.228],[8.33,.287],[8.34,.256],[8.35,.314],[8.36,.248],[8.37,.272],[8.38,.214],[8.39,.295],[8.4,.265],[8.41,.279],[8.42,.234],[8.43,.283],[8.44,.253],[8.45,.306],[8.46,.259],[8.47,.27],[8.48,.239],
[8.5,.281],[8.51,.232],[8.52,.312],[8.53,.257],[8.54,.212],[8.55,.27],[8.56,.293],[8.57,.246],[8.58,.263],[8.59,.304],[8.6,.226],[8.61,.277],[8.62,.254],[8.63,.288],[8.64,.237],[8.65,.267],[8.66,.298],[8.67,.26],[8.68,.218],[8.69,.285],[8.7,.251],[8.71,.273],[8.72,.242],[8.73,.268],
[8.75,.257],[8.76,.285],[8.77,.215],[8.78,.27],[8.79,.295],[8.8,.239],[8.81,.264],[8.82,.223],[8.83,.282],[8.84,.251],[8.85,.309],[8.86,.243],[8.87,.267],[8.88,.209],[8.89,.29],[8.9,.26]
];
// Normal genes at the upper and lower edges of the dense band
const normalEdge=[
[4.01,.394],[4.04,.421],[4.07,.402],[4.1,.437],[4.13,.409],[4.16,.39],[4.19,.428],[4.22,.415],[4.02,.311],[4.05,.288],[4.08,.304],[4.11,.279],[4.14,.297],[4.17,.314],[4.2,.283],[4.23,.301],
[4.26,.384],[4.29,.411],[4.32,.392],[4.35,.427],[4.38,.399],[4.41,.38],[4.44,.418],[4.47,.405],[4.27,.301],[4.3,.278],[4.33,.294],[4.36,.269],[4.39,.287],[4.42,.304],[4.45,.273],[4.48,.291],
[4.51,.375],[4.54,.402],[4.57,.383],[4.6,.418],[4.63,.39],[4.66,.371],[4.69,.409],[4.72,.396],[4.52,.292],[4.55,.269],[4.58,.285],[4.61,.26],[4.64,.278],[4.67,.295],[4.7,.264],[4.73,.282],
[4.76,.367],[4.79,.394],[4.82,.375],[4.85,.41],[4.88,.382],[4.91,.363],[4.94,.401],[4.97,.388],[4.77,.284],[4.8,.261],[4.83,.277],[4.86,.252],[4.89,.27],[4.92,.287],[4.95,.256],[4.98,.274],
[5.01,.356],[5.04,.38],[5.07,.363],[5.1,.394],[5.13,.369],[5.16,.352],[5.19,.386],[5.22,.374],[5.02,.281],[5.05,.26],[5.08,.274],[5.11,.252],[5.14,.268],[5.17,.283],[5.2,.256],[5.23,.272],
[5.26,.349],[5.29,.373],[5.32,.356],[5.35,.387],[5.38,.362],[5.41,.345],[5.44,.379],[5.47,.367],[5.27,.274],[5.3,.253],[5.33,.267],[5.36,.245],[5.39,.261],[5.42,.276],[5.45,.249],[5.48,.265],
[5.51,.343],[5.54,.367],[5.57,.35],[5.6,.381],[5.63,.356],[5.66,.339],[5.69,.373],[5.72,.361],[5.52,.268],[5.55,.247],[5.58,.261],[5.61,.239],[5.64,.255],[5.67,.27],[5.7,.243],[5.73,.259],
[5.76,.338],[5.79,.362],[5.82,.345],[5.85,.376],[5.88,.351],[5.91,.334],[5.94,.368],[5.97,.356],[5.77,.263],[5.8,.242],[5.83,.256],[5.86,.234],[5.89,.25],[5.92,.265],[5.95,.238],[5.98,.254],
[6.01,.33],[6.04,.353],[6.07,.337],[6.1,.367],[6.13,.343],[6.16,.327],[6.19,.359],[6.22,.348],[6.02,.26],[6.05,.24],[6.08,.254],[6.11,.232],[6.14,.248],[6.17,.262],[6.2,.236],[6.23,.251],
[6.26,.326],[6.29,.349],[6.32,.333],[6.35,.363],[6.38,.339],[6.41,.323],[6.44,.355],[6.47,.344],[6.27,.256],[6.3,.236],[6.33,.25],[6.36,.228],[6.39,.244],[6.42,.258],[6.45,.232],[6.48,.247],
[6.51,.322],[6.54,.345],[6.57,.329],[6.6,.359],[6.63,.335],[6.66,.319],[6.69,.351],[6.72,.34],[6.52,.252],[6.55,.232],[6.58,.246],[6.61,.224],[6.64,.24],[6.67,.254],[6.7,.228],[6.73,.243],
[6.76,.318],[6.79,.341],[6.82,.325],[6.85,.355],[6.88,.331],[6.91,.315],[6.94,.347],[6.97,.336],[6.77,.248],[6.8,.228],[6.83,.242],[6.86,.22],[6.89,.236],[6.92,.25],[6.95,.224],[6.98,.239],
[7.01,.313],[7.04,.335],[7.07,.319],[7.1,.347],[7.13,.325],[7.16,.31],[7.19,.34],[7.22,.33],[7.02,.247],[7.05,.228],[7.08,.241],[7.11,.221],[7.14,.235],[7.17,.249],[7.2,.224],[7.23,.239],
[7.26,.31],[7.29,.332],[7.32,.316],[7.35,.344],[7.38,.322],[7.41,.307],[7.44,.337],[7.47,.327],[7.27,.244],[7.3,.225],[7.33,.238],[7.36,.218],[7.39,.232],[7.42,.246],[7.45,.221],[7.48,.236],
[7.51,.307],[7.54,.329],[7.57,.313],[7.6,.341],[7.63,.319],[7.66,.304],[7.69,.334],[7.72,.324],[7.52,.241],[7.55,.222],[7.58,.235],[7.61,.215],[7.64,.229],[7.67,.243],[7.7,.218],[7.73,.233],
[7.76,.304],[7.79,.326],[7.82,.31],[7.85,.338],[7.88,.316],[7.91,.301],[7.94,.331],[7.97,.321],[7.77,.238],[7.8,.219],[7.83,.232],[7.86,.212],[7.89,.226],[7.92,.24],[7.95,.215],[7.98,.23],
[8.01,.301],[8.04,.323],[8.07,.307],[8.1,.335],[8.13,.313],[8.16,.298],[8.19,.328],[8.22,.318],[8.02,.235],[8.05,.216],[8.08,.229],[8.11,.209],[8.14,.223],[8.17,.237],[8.2,.212],[8.23,.227],
[8.26,.298],[8.29,.32],[8.32,.304],[8.35,.332],[8.38,.31],[8.41,.295],[8.44,.325],[8.47,.315],[8.27,.232],[8.3,.213],[8.33,.226],[8.36,.206],[8.39,.22],[8.42,.234],[8.45,.209],[8.48,.224],
[8.51,.296],[8.54,.318],[8.57,.302],[8.6,.33],[8.63,.308],[8.66,.293],[8.69,.323],[8.72,.313],[8.52,.23],[8.55,.211],[8.58,.224],[8.61,.204],[8.64,.218],[8.67,.232],[8.7,.207],[8.73,.222],
[8.76,.294],[8.79,.316],[8.82,.3],[8.85,.328],[8.88,.306],[8.91,.291],[8.94,.321],[8.97,.311],[8.77,.228],[8.8,.209],[8.83,.222],[8.86,.202],[8.89,.216],[8.92,.23],[8.95,.205],[8.98,.22],
[8.91,.268],[8.92,.29],[8.94,.232],[8.95,.275],[8.96,.221],[8.99,.297],[9,.262],[9.02,.245],[9.04,.27],[9.05,.31],[9.07,.235],[9.08,.266],[9.1,.298],[9.12,.243],[9.13,.262],[9.15,.226],[9.17,.291],[9.18,.256],[9.19,.237],[9.21,.268],[9.23,.3],[9.25,.262],[9.26,.231],[9.29,.274],[9.3,.252],[9.31,.296],[9.33,.238],[9.36,.264],[9.38,.29],[9.4,.233],[9.41,.255],[9.43,.271],[9.46,.236],[9.47,.301],[9.52,.263],[9.54,.233],[9.58,.287],[9.62,.261],[9.68,.275],[9.7,.236]
];
// Normal genes in the sparse high-expression tail
const normalTail=[
[8.89,.313],[8.94,.311],[8.98,.318],[9.01,.325],[8.97,.3],[9.03,.304],[8.9,.28],[8.97,.278],[9.03,.286],[9.09,.288],[9.14,.279],[9.2,.279],[9.26,.286],[9.35,.283],[9.42,.293],[9.48,.292],[9.56,.28],[8.88,.254],[8.95,.258],[9.06,.261],[9.11,.256],[9.22,.25],[9.28,.245],[9.35,.249],[9.44,.247],[9.48,.258],[9.56,.266],[9.66,.249],[9.74,.258],[9.79,.265],[9.9,.261],[9.92,.254],[8.87,.24],[8.93,.243],[8.98,.236],[9.03,.226],[9.11,.222],[9.16,.216],[9.24,.218],[9.32,.222],[9.37,.211],[9.5,.208],[9.56,.222],[9.63,.226],[9.74,.202],[9.82,.208],[9.5,.193],[8.88,.208],[8.93,.211],[9.01,.208],[9.22,.215],[9.35,.208],[9.27,.204],[10.1,.3],[10.26,.236],[9.95,.236],[10.03,.233],[10.1,.229],[10.19,.227],[10.25,.228],[10,.24],[9.87,.243],[9.95,.226],[10.14,.24],[9.56,.249],[9.39,.268],[9.45,.279],[9.15,.272],[9.61,.243],[9.66,.222],[9.76,.233],
[9,.357],[9.35,.356],[9.5,.359],[9.55,.34],[10.01,.34],[10.05,.337],[9.98,.332],[9.33,.329],[9.33,.323],[9.11,.338],[9.12,.341],[9.09,.335],[9.5,.322],[9.74,.318],[9.82,.316],[9.75,.307],[9.82,.297],[9.85,.307],[9.85,.295],[9.93,.309],[9.99,.331],[10.16,.309],[10.14,.304],[9.59,.302],[10.03,.281],[10.02,.278],[10.13,.26],[10.27,.253],[10.43,.299],[10.51,.3],[10.63,.306],[10.68,.296],[10.43,.281],[10.49,.279],[10.55,.274],[10.67,.279],[10.72,.273],[10.78,.279],[10.86,.283],[10.87,.272],[10.94,.275],[11.01,.275],[11.1,.274],[10.66,.261],[10.83,.258],[10.9,.258],[10.73,.248],[10.66,.241],[10.6,.248],[10.63,.229],[10.83,.231],[10.83,.221],[10.88,.219],[10.89,.21],[10.69,.211],[10.65,.206],[10.58,.199],[10.71,.191],[10.87,.196],[10.41,.221],[10.44,.208],[10.5,.219],[10.52,.217],[10.26,.206],[10.34,.204],[10.32,.211],[10.31,.202],[10.19,.203],[10.18,.196],[10.26,.189],[10.42,.241],[10.47,.243],[10.55,.243],[10.36,.239],[11.1,.231],[11.14,.236],[11.23,.238],[11.33,.242],[11.36,.26],[11.37,.245],[11.24,.254],[11.31,.245],[11.26,.323],[11.32,.325],[11.27,.313],[11.34,.315],[11.4,.334],[11.41,.272],[11.5,.265],[11.58,.255],[11.49,.243],[11.35,.221],[11.5,.221],[11.64,.212],[11.67,.229],[11.7,.332],[11.71,.269],[11.85,.249],[11.93,.254],[11.96,.249],[11.95,.327],[12.04,.273],[11.89,.213],[12.29,.236],[12.53,.325],[12.54,.226],[12.81,.263],[12.94,.27],[14.08,.214],[14.14,.214]
];
// Outlier genes
const outlier=[
[.73,1.398],[.51,1.365],[-.575,1.331],[.8,1.3],[.8,1.267],[.88,1.253],[1.92,1.267],[2.76,1.263],[-.14,1.233],[.15,1.212],[2.75,1.223],[1.26,1.201],[1.51,1.197],[2.06,1.213],[2.08,1.192],[2.47,1.201],[.3,1.181],[.25,1.127],[.04,1.088],[.54,1.088],[1.32,1.091],[2.51,1.083],[.46,1.065],[.55,1.049],[.44,1.044],[1.12,1.034],[1.17,1.018],[1.49,1.018],[2.14,1.017],[2.33,1.03],[2.2,1.009],[1.99,1.002],[2.4,.992],[0,.994],[1.13,.976],[1.9,.973],[3.42,.976],[.75,.962],[.89,.942],[.99,.93],[1.45,.933],[1.6,.935],[2.48,.936],[1.04,.913],[.91,.901],[1.08,.899],[1.48,.904],[1.93,.898],[4.5,.885],[4.55,.878],[3.61,.85],
[3.08,.801],[3.21,.795],[2.9,.759],[3.09,.757],[3.41,.75],[3.92,.782],[3.9,.764],[4.97,.78],[4.31,.748],[3.04,.731],[3.16,.724],[3.23,.736],[3.33,.722],[2.9,.71],[2.97,.714],[3.98,.744],[3.97,.726],[4.09,.73],[4.21,.72],[4.49,.725],[3.48,.697],[3.68,.699],[3.74,.69],[4.31,.701],[4.46,.698],[5.02,.686],[4.93,.679],[5.36,.678],[3.08,.678],[3.24,.68],[3.32,.671],[3.59,.671],[3.64,.661],[4.08,.665],[4.69,.673],[2.91,.665],[2.95,.661],[3.05,.663],[6.95,.651],[2.91,.639],[3.18,.645],[3.92,.654],[3.84,.649],[3.32,.633],[3.78,.631],[3.84,.629],[3.99,.633],[4.06,.635],[4.64,.63],[5.47,.626],[3.18,.623],[2.87,.623],[3.37,.615],[2.95,.608],[2.98,.611],[3.4,.604],[3.48,.601],[3,.601],[3.16,.594],[3.05,.593],[3.36,.59],[3.55,.592],[3.72,.596],[3.88,.592],[4.1,.603],[4.54,.612],[4.6,.607],[4.95,.61],[4.93,.605],[6.78,.617],[6.79,.59],[6.43,.586],[4.27,.592],[4.29,.582],[4.31,.574],[3.77,.585],[3.77,.577],[3.85,.572],[3.12,.579],[3.21,.572],[3.25,.574],[3.43,.577],[3.43,.567],[3.44,.554],[3.59,.562],[3.73,.562],[3.7,.556],[3.8,.55],[4.03,.551],[4.14,.55],[4.36,.556],[4.64,.56],[4.69,.55],[4.93,.566],[5.38,.552],[5.31,.547],[5.58,.539],[6.07,.53],[6.39,.539],[6.78,.55],[6.82,.537],[7.24,.562],[3.52,.537],[3.57,.537],[3.65,.527],[3.91,.53],[4.14,.534],[4.21,.54],[4.27,.533],[4.38,.543],[4.47,.537],[4.6,.544],[4.8,.541],[4.89,.541],[4.91,.533],[3.82,.515],[3.86,.517],[4.01,.519],[4.09,.498],[3.91,.511],[4.27,.507],[4.34,.521],[4.5,.531],[4.51,.523],[4.64,.523],[4.94,.523],[4.92,.519],[5.05,.51],[5.21,.505],[5.39,.506],[5.46,.513],[5.47,.5],[5.53,.5],[5.68,.502],[6.24,.505],[6.15,.493],[6.29,.494],[4.35,.493],[4.46,.478],[4.59,.48],[4.7,.491],[4.81,.499],[4.9,.48],[4.93,.478],[5.05,.47],[5.2,.481],[5.26,.488],[5.63,.468],[5.8,.488],[5.9,.479],[6,.475],[6.21,.463],[6.29,.462],[6.77,.453],[5.4,.457],[5.73,.453],[4.85,.457],[4.76,.462],[4.52,.473],[4.45,.482],
[.52,.873],[.84,.889],[.96,.887],[1.33,.881],[1.82,.881],[.86,.863],[1.09,.876],[1.25,.864],[1.32,.866],[1.39,.868],[1.41,.862],[1.5,.853],[1.65,.853],[1.58,.842],[1.06,.847],[1.19,.845],[1.02,.836],[.89,.829],[.86,.827],[.93,.828],[1.1,.83],[1.29,.828],[1.41,.827],[1.52,.823],[1.68,.813],[1.33,.814],[1.3,.809],[1.11,.811],[.84,.812],[.99,.804],[1.03,.805],[1.16,.802],[2.11,.819],[2.18,.813],[2.59,.827],[2.71,.842],[2.6,.811],[2.65,.801],[1.01,.79],[1.15,.788],[1.42,.784],[1.75,.786],[1.78,.782],[1.84,.784],[1.95,.773],[1.95,.766],[2.09,.773],[1.48,.77],[1.54,.762],[1.27,.77],[1.3,.766],[1.26,.764],[1.34,.752],[1.5,.75],[1.56,.749],[1.44,.745],[1.67,.749],[1.69,.734],[1.69,.722],[1.57,.737],[1.84,.766],[1.91,.744],[2.12,.747],[2.34,.74],[2.43,.764],[2.44,.731],[2.25,.729],[2.6,.72],[2.71,.718],[2.61,.71],[2.02,.716],[1.85,.702],[2.02,.697],[2.1,.704],[2.16,.686],[2.32,.69],[2.41,.685],[2.6,.692],[2.77,.683],[2.21,.668],[2.4,.669],[2.41,.663],[2.3,.656],[2.34,.658],[2.49,.648],[2.57,.65],[2.63,.652],[2.71,.649],[2.76,.648],[2.85,.664],[2.76,.64],[2.52,.631],[2.6,.629],[2.74,.628],[2.86,.626],[2.63,.619],[2.79,.621],[2.68,.584],[2.82,.579],[.65,.438],[.56,.417],[.91,.415],[1.55,.38],[1.98,.354],
[5.67,.441],[5.74,.441],[5.66,.433],[5.74,.431],[5.96,.438],[6.04,.436],[6.11,.43],[6.19,.43],[6.26,.434],[6.32,.434],[6.5,.439],[6.52,.433],[7.26,.438],[8.03,.434],[6.1,.42],[6.18,.421],[5.97,.419],[6.02,.421],[6.34,.418],[6.69,.425],[7.01,.418],[7.07,.418],[6.99,.412],[7.43,.418],[7.37,.412],[8.98,.421],[6.35,.406],[6.6,.403],[7.12,.404],[6.96,.399],[7.2,.392],[7.35,.394],[7.82,.392],[7.87,.382],[7.95,.389],[8.1,.393],[8.41,.387],[8.59,.398],[8.66,.396],[8.72,.404],[8.66,.385],[8.75,.379],[8.79,.381],[8.85,.381],[8.94,.387],
[3.55,.268],[3.92,.263],[4.07,.263],[4.24,.238],[4.47,.245],[4.34,.229],[4.6,.225],[4.76,.234],[4.84,.234],[4.94,.23],[4.98,.224],[5,.231],[5.07,.236],[5.16,.234],[5.21,.234],[5.31,.227],[5.52,.211],[5.58,.205],[5.62,.219],[5.68,.223],[5.74,.221],[5.79,.22],[5.91,.206],[5.8,.187],[5.9,.19],[6.07,.215],[6.11,.212],[6.18,.209],[6.26,.208],[6.32,.206],[6.42,.209],[6.46,.206],[6.51,.207],[6.6,.206],[6.66,.207],[6.72,.208],[6.36,.194],[6.35,.185],[6.41,.196],[6.54,.204],[6.58,.196],[6.69,.196],[6.63,.177],[6.8,.189],[6.91,.202],[6.97,.208],[7.1,.206],[6.97,.188],[7.1,.196],[7.24,.201],[7.26,.187],[7.29,.194],[7.37,.164],[7.48,.2],[7.56,.189],[7.71,.186],[7.71,.196],[7.78,.19],[7.94,.198],[7.99,.195],[8.04,.199],[8.05,.192],[8.17,.199],[8.21,.183],[8.24,.174],[8.3,.195],[8.37,.194],[8.4,.191],[8.46,.179],[8.56,.195],[8.74,.177],[8.88,.172],[8.97,.189],[8.98,.209],
[9.78,.452],[9.82,.427],[9.17,.384],[9.33,.385],[9.5,.385],[9.25,.369],[9.4,.362],[9.52,.362],[9.58,.364],[11.12,.404],[10.73,.367],[10.55,.355],[11.81,.362],[11.9,.341],[9.08,.187],[9.74,.176],[9.87,.181],[10.62,.186]
];
// Fitted trend (blue line)
const trendX=[-0.58,0.5,1.5,2.5,3.5,4.5,5.5,6.5,7.5,8.5,9.5,10.5,11.5,12.5,13.5,14.14];
const trendY=[0.706,0.598,0.516,0.444,0.383,0.337,0.305,0.284,0.270,0.259,0.252,0.247,0.242,0.237,0.231,0.226];
const xTicks=[0,5,10];
const yTicks=[0.2,0.4,0.6,0.8,1.0,1.2,1.4];
const legendLabels=["Normal","Outlier"];
const legendColors=["#000000","#ff0000"];
const xLabel="Average log-expression", yLabel="sqrt(sigma)";

const svg=d3.select("#c");
const L=123,R=1137,T=123,B=746;
const normalAll=normal.concat(normalCore,normalCore2,normalEdge,normalTail);
const all=normalAll.concat(outlier);
const xe=d3.extent(all,d=>d[0]), ye=d3.extent(all,d=>d[1]);
const xp=(xe[1]-xe[0])*0.04, yp=(ye[1]-ye[0])*0.04;
const x=d3.scaleLinear().domain([xe[0]-xp,xe[1]+xp]).range([L,R]);
const y=d3.scaleLinear().domain([ye[0]-yp,ye[1]+yp]).range([B,T]);
const font='"Liberation Sans",Arial,sans-serif';
const fs=24.5, pr=1.85;

svg.append("g").selectAll("circle").data(normalAll).join("circle")
 .attr("cx",d=>x(d[0])).attr("cy",d=>y(d[1])).attr("r",pr).attr("fill",legendColors[0]);
svg.append("g").selectAll("circle").data(outlier).join("circle")
 .attr("cx",d=>x(d[0])).attr("cy",d=>y(d[1])).attr("r",pr).attr("fill",legendColors[1]);

const line=d3.line().x(d=>x(d[0])).y(d=>y(d[1])).curve(d3.curveMonotoneX);
svg.append("path").datum(trendX.map((v,i)=>[v,trendY[i]])).attr("d",line)
 .attr("fill","none").attr("stroke","#0000ff").attr("stroke-width",1.6);

svg.append("rect").attr("x",L).attr("y",T).attr("width",R-L).attr("height",B-T)
 .attr("fill","none").attr("stroke","#000").attr("stroke-width",1.3);

const xa=svg.append("g").attr("transform",`translate(0,${B})`)
 .call(d3.axisBottom(x).tickValues(xTicks).tickSize(15).tickPadding(0).tickFormat(d3.format("d")));
xa.select(".domain").attr("d",`M${x(xTicks[0])},0H${x(xTicks[xTicks.length-1])}`).attr("stroke-width",1.3);
xa.selectAll(".tick line").attr("stroke-width",1.3);
xa.selectAll(".tick text").attr("y",55).attr("dy",null).attr("font-family",font).attr("font-size",fs).attr("fill","#000");

const ya=svg.append("g").attr("transform",`translate(${L},0)`)
 .call(d3.axisLeft(y).tickValues(yTicks).tickSize(15).tickFormat(d3.format(".1f")));
ya.select(".domain").attr("d",`M0,${y(yTicks[0])}V${y(yTicks[yTicks.length-1])}`).attr("stroke-width",1.3);
ya.selectAll(".tick line").attr("stroke-width",1.3);
ya.selectAll(".tick text").attr("x",null).attr("dy",null)
 .attr("transform","translate(-37,0) rotate(-90)").attr("text-anchor","middle")
 .attr("font-family",font).attr("font-size",fs).attr("fill","#000");

svg.append("text").attr("x",(L+R)/2).attr("y",862).attr("text-anchor","middle")
 .attr("font-family",font).attr("font-size",fs).text(xLabel);
svg.append("text").attr("transform",`translate(29,${(T+B)/2}) rotate(-90)`).attr("text-anchor","middle")
 .attr("font-family",font).attr("font-size",fs).text(yLabel);

const lg=svg.append("g");
lg.append("rect").attr("x",1000).attr("y",T).attr("width",R-1000).attr("height",89)
 .attr("fill","#fff").attr("stroke","#000").attr("stroke-width",1.3);
legendLabels.forEach((lab,i)=>{
  lg.append("circle").attr("cx",1022).attr("cy",153+i*30).attr("r",3.6).attr("fill",legendColors[i]);
  lg.append("text").attr("x",1046).attr("y",161+i*30).attr("font-family",font).attr("font-size",fs).text(lab);
});
</script></body></html>
